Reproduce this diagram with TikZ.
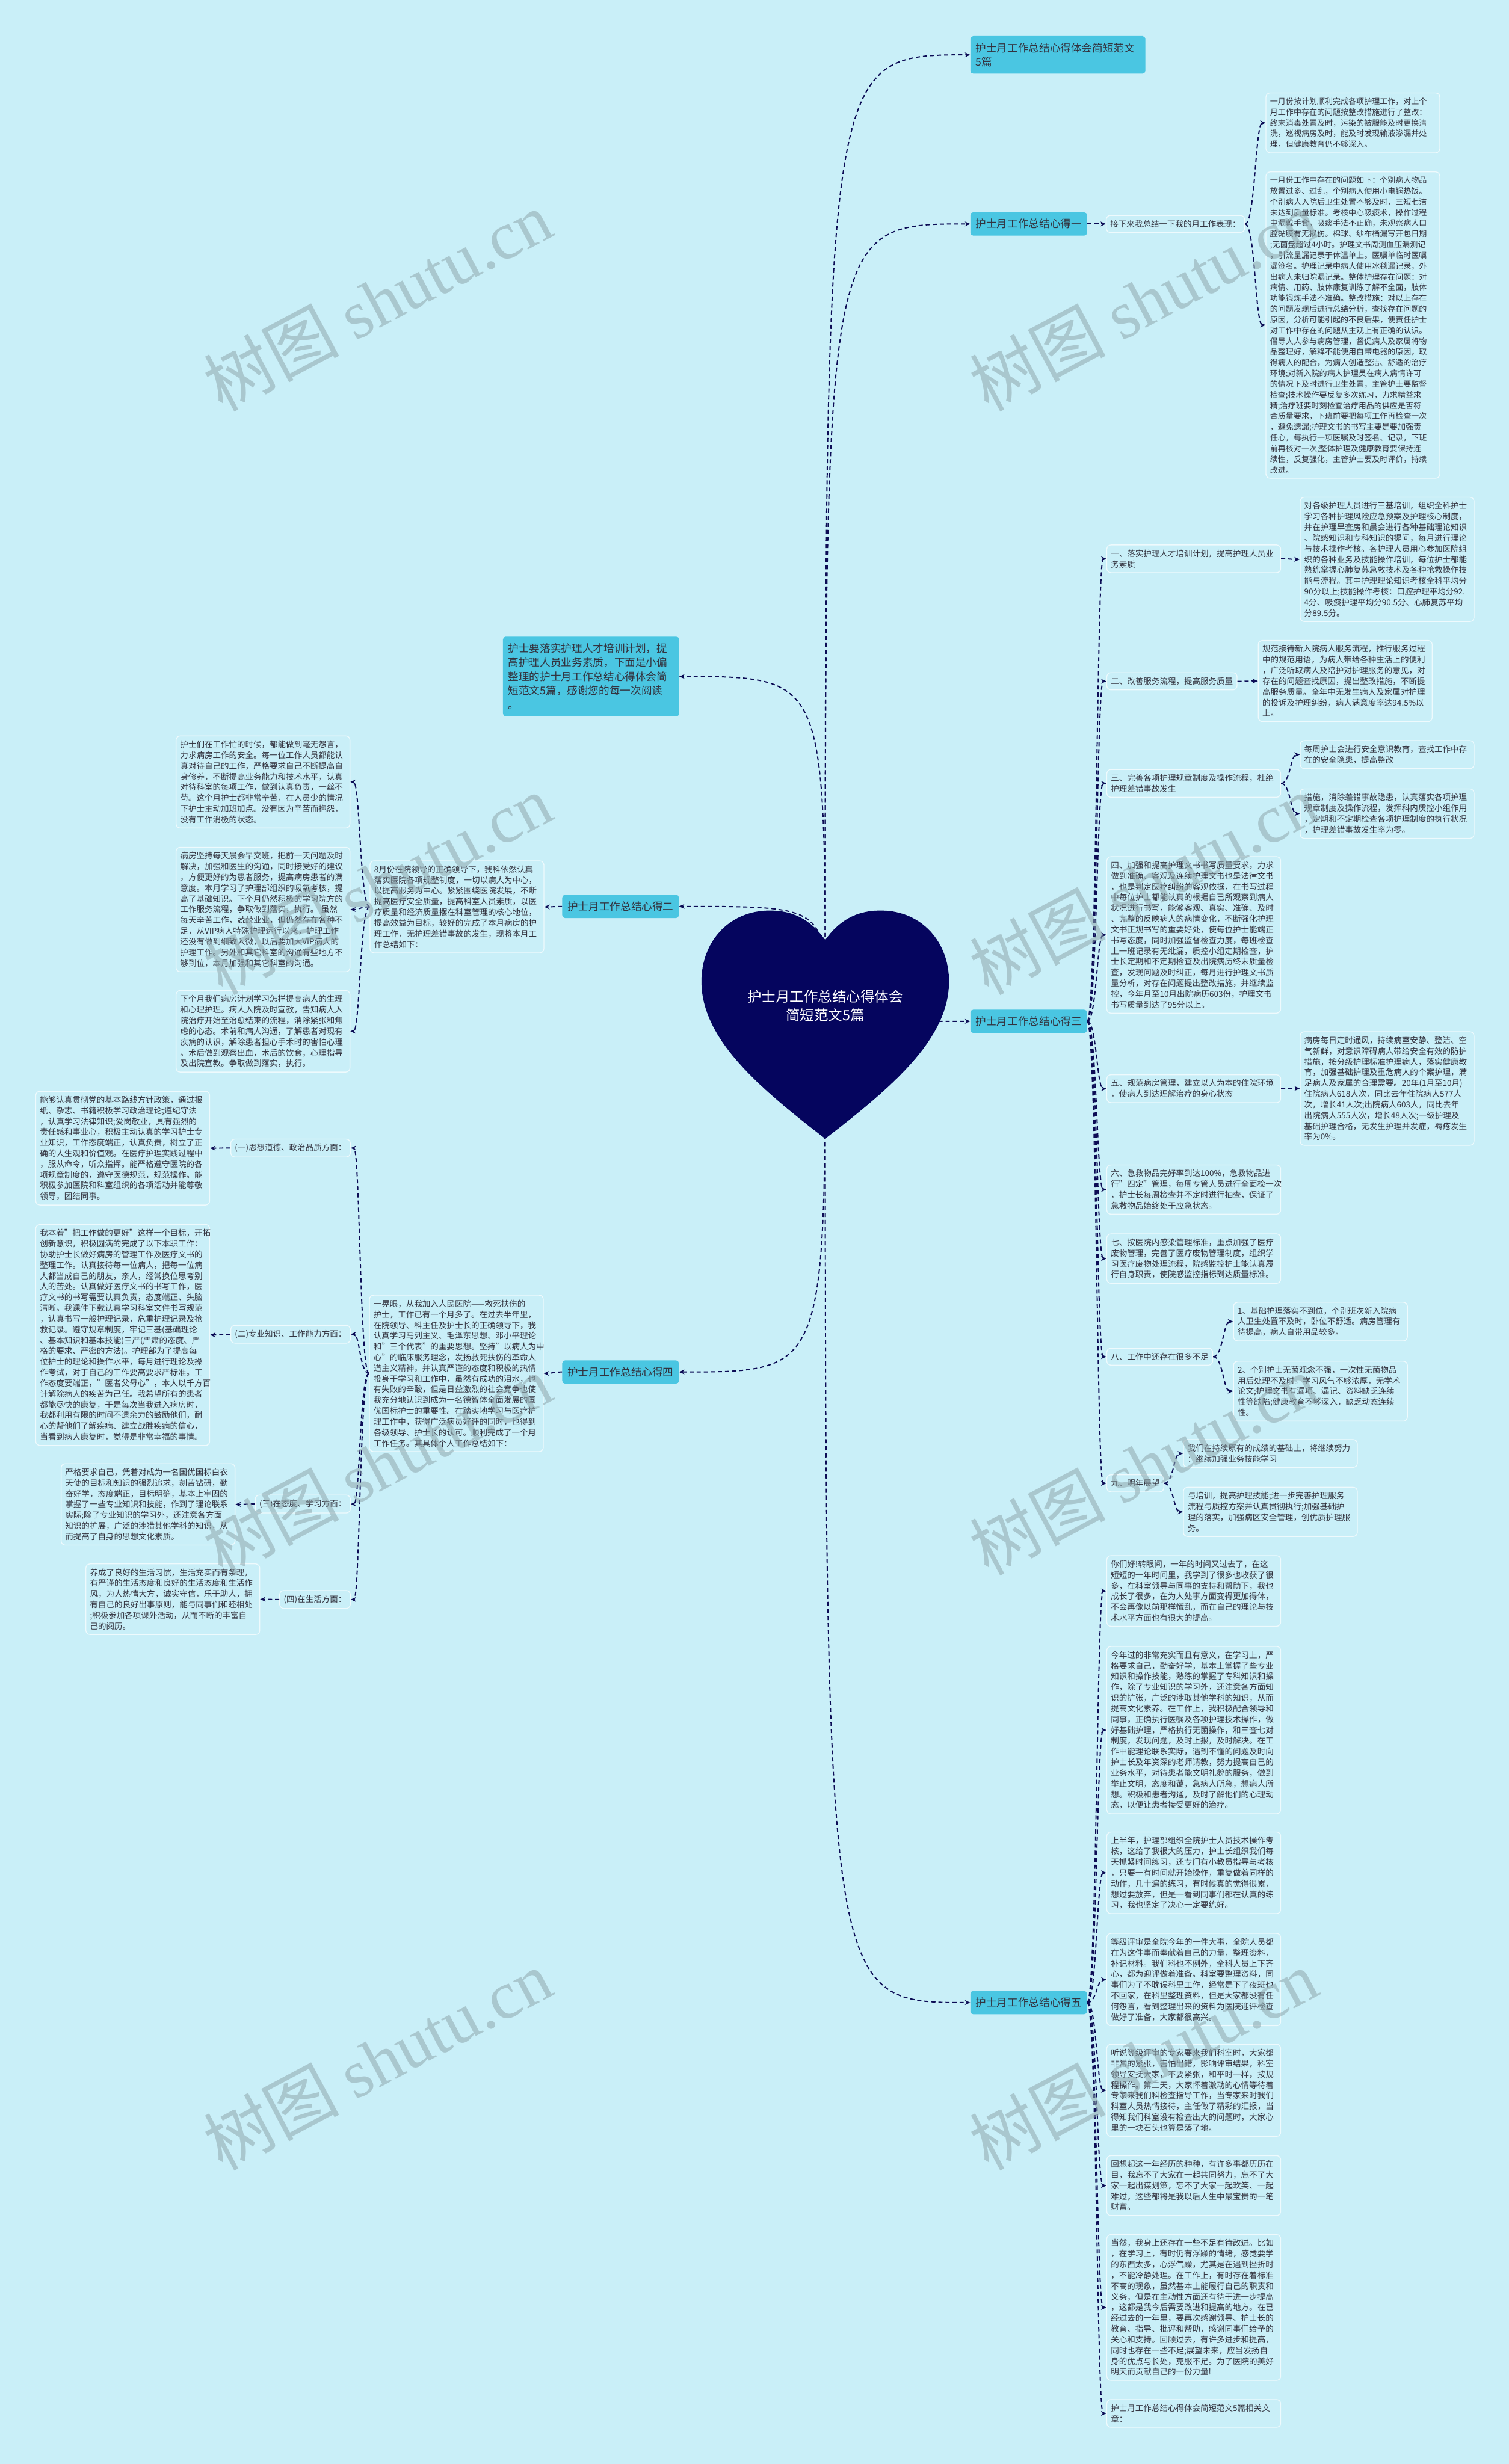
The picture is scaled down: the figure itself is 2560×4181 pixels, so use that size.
\documentclass[tikz,border=0pt]{standalone}
\usepackage{fontspec}
\setmainfont{Noto Sans CJK SC}
\newfontfamily\wmserif{Liberation Serif}
\usetikzlibrary{calc,arrows.meta}
\definecolor{bg}{HTML}{C9EFF8}
\definecolor{cy}{HTML}{4AC6E2}
\definecolor{nv}{HTML}{0C0C55}
\definecolor{hv}{HTML}{05055E}
\definecolor{bd}{HTML}{EEFAFD}
\definecolor{tx}{HTML}{33333F}
\definecolor{wmc}{HTML}{8FA7AD}
\tikzset{
  cbox/.style={fill=cy, rounded corners=5pt, text=tx, font=\fontsize{18}{24}\selectfont, inner xsep=9pt, inner ysep=11.5pt, align=left},
  tbox/.style={draw=bd, line width=1.4pt, fill=bg, rounded corners=7pt, text=tx, font=\fontsize{13.8}{18.2}\selectfont, inner xsep=7pt, inner ysep=8pt, align=left},
  wbox/.style={tbox, text width=281pt},
  wboxa/.style={wbox, font=\fontsize{13.3}{18.2}\selectfont},
  conn/.style={draw=nv, line width=2pt, dash pattern=on 7pt off 5pt, -{Stealth[length=9pt,width=8pt]}},
  mmcurve/.style={to path={let \p1=(\tikztostart), \p2=(\tikztotarget), \p3=($(\p1)!0.5!(\p2)$) in .. controls (\x3,\y1) and (\x3,\y2) .. (\tikztotarget) \tikztonodes}},
  rootcurve/.style={to path={.. controls (\tikztostart |- \tikztotarget) .. (\tikztotarget) \tikztonodes}},
  wm/.style={text=wmc, opacity=0.55, font=\fontsize{115}{120}\selectfont, rotate=28, inner sep=0pt}
}
\begin{document}
\begin{tikzpicture}[x=1pt,y=-1pt]
\useasboundingbox (0,0) rectangle (2560,4181);
\fill[bg] (0,0) rectangle (2560,4181);

\coordinate (hC) at (1400,1710);

% ---------- right branches ----------
\node[cbox, text width=279pt, anchor=north west] (b1) at (1646,61) {护士月工作总结心得体会简短范文\\5篇};
\node[cbox, anchor=west] (b2) at (1646,380) {护士月工作总结心得一};
\node[cbox, anchor=west] (b3) at (1646,1733) {护士月工作总结心得三};
\node[cbox, anchor=west] (b5) at (1646,3398) {护士月工作总结心得五};

\node[tbox, anchor=west] (n1) at (1876,380) {接下来我总结一下我的月工作表现：};
\node[wboxa, anchor=north west] (t1a) at (2147,157) {一月份按计划顺利完成各项护理工作，对上个\\月工作中存在的问题按整改措施进行了整改：\\终末消毒处置及时，污染的被服能及时更换清\\洗，巡视病房及时，能及时发现输液渗漏并处\\理，但健康教育仍不够深入。};
\node[wboxa, anchor=north west] (t1b) at (2147,291) {一月份工作中存在的问题如下：个别病人物品\\放置过多、过乱，个别病人使用小电锅热饭。\\个别病人入院后卫生处置不够及时，三短七洁\\未达到质量标准。考核中心吸痰术，操作过程\\中漏戴手套，吸痰手法不正确，未观察病人口\\腔黏膜有无损伤。棉球、纱布桶漏写开包日期\\;无菌盘超过4小时。护理文书周测血压漏测记\\，引流量漏记录于体温单上。医嘱单临时医嘱\\漏签名。护理记录中病人使用冰毯漏记录，外\\出病人未归院漏记录。整体护理存在问题：对\\病情、用药、肢体康复训练了解不全面，肢体\\功能锻炼手法不准确。整改措施：对以上存在\\的问题发现后进行总结分析，查找存在问题的\\原因，分析可能引起的不良后果，使责任护士\\对工作中存在的问题从主观上有正确的认识。\\倡导人人参与病房管理，督促病人及家属将物\\品整理好，解释不能使用自带电器的原因，取\\得病人的配合，为病人创造整洁、舒适的治疗\\环境;对新入院的病人护理员在病人病情许可\\的情况下及时进行卫生处置，主管护士要监督\\检查;技术操作要反复多次练习，力求精益求\\精;治疗班要时刻检查治疗用品的供应是否符\\合质量要求，下班前要把每项工作再检查一次\\，避免遗漏;护理文书的书写主要是要加强责\\任心，每执行一项医嘱及时签名、记录，下班\\前再核对一次;整体护理及健康教育要保持连\\续性，反复强化，主管护士要及时评价，持续\\改进。};

% branch three
\node[wbox, anchor=north west] (l31) at (1877,924) {一、落实护理人才培训计划，提高护理人员业\\务素质};
\node[wbox, anchor=north west] (t31) at (2205,843) {对各级护理人员进行三基培训，组织全科护士\\学习各种护理风险应急预案及护理核心制度，\\并在护理早查房和晨会进行各种基础理论知识\\、院感知识和专科知识的提问，每月进行理论\\与技术操作考核。各护理人员用心参加医院组\\织的各种业务及技能操作培训，每位护士都能\\熟练掌握心肺复苏急救技术及各种抢救操作技\\能与流程。其中护理理论知识考核全科平均分\\90分以上;技能操作考核：口腔护理平均分92.\\4分、吸痰护理平均分90.5分、心肺复苏平均\\分89.5分。};
\node[tbox, anchor=west] (l32) at (1877,1156) {二、改善服务流程，提高服务质量};
\node[wbox, anchor=north west] (t32) at (2134,1086) {规范接待新入院病人服务流程，推行服务过程\\中的规范用语，为病人带给各种生活上的便利\\，广泛听取病人及陪护对护理服务的意见，对\\存在的问题查找原因，提出整改措施，不断提\\高服务质量。全年中无发生病人及家属对护理\\的投诉及护理纠纷，病人满意度率达94.5\%以\\上。};
\node[wbox, anchor=north west] (l33) at (1877,1305) {三、完善各项护理规章制度及操作流程，杜绝\\护理差错事故发生};
\node[wbox, anchor=north west] (t33a) at (2205,1256) {每周护士会进行安全意识教育，查找工作中存\\在的安全隐患，提高整改};
\node[wbox, anchor=north west] (t33b) at (2205,1338) {措施，消除差错事故隐患，认真落实各项护理\\规章制度及操作流程，发挥科内质控小组作用\\，定期和不定期检查各项护理制度的执行状况\\，护理差错事故发生率为零。};
\node[wbox, anchor=north west] (t34) at (1877,1453) {四、加强和提高护理文书书写质量要求，力求\\做到准确、客观及连续护理文书也是法律文书\\，也是判定医疗纠纷的客观依据，在书写过程\\中每位护士都能认真的根据自已所观察到病人\\状况进行书写，能够客观、真实、准确、及时\\、完整的反映病人的病情变化，不断强化护理\\文书正规书写的重要好处，使每位护士能端正\\书写态度，同时加强监督检查力度，每班检查\\上一班记录有无纰漏，质控小组定期检查，护\\士长定期和不定期检查及出院病历终末质量检\\查，发现问题及时纠正，每月进行护理文书质\\量分析，对存在问题提出整改措施，并继续监\\控，今年月至10月出院病历603份，护理文书\\书写质量到达了95分以上。};
\node[wbox, anchor=north west] (l35) at (1877,1823) {五、规范病房管理，建立以人为本的住院环境\\，使病人到达理解治疗的身心状态};
\node[wbox, anchor=north west] (t35) at (2205,1750) {病房每日定时通风，持续病室安静、整洁、空\\气新鲜，对意识障碍病人带给安全有效的防护\\措施，按分级护理标准护理病人，落实健康教\\育，加强基础护理及重危病人的个案护理，满\\足病人及家属的合理需要。20年(1月至10月)\\住院病人618人次，同比去年住院病人577人\\次，增长41人次;出院病人603人，同比去年\\出院病人555人次，增长48人次;一级护理及\\基础护理合格，无发生护理并发症，褥疮发生\\率为0\%。};
\node[wbox, anchor=north west] (t36) at (1877,1976) {六、急救物品完好率到达100\%，急救物品进\\行"四定"管理，每周专管人员进行全面检一次\\，护士长每周检查并不定时进行抽查，保证了\\急救物品始终处于应急状态。};
\node[wbox, anchor=north west] (t37) at (1877,2093) {七、按医院内感染管理标准，重点加强了医疗\\废物管理，完善了医疗废物管理制度，组织学\\习医疗废物处理流程，院感监控护士能认真履\\行自身职责，使院感监控指标到达质量标准。};
\node[tbox, anchor=west] (l38) at (1877,2302) {八、工作中还存在很多不足};
\node[wbox, anchor=north west] (t38a) at (2092,2209) {1、基础护理落实不到位，个别班次新入院病\\人卫生处置不及时，卧位不舒适。病房管理有\\待提高，病人自带用品较多。};
\node[wbox, anchor=north west] (t38b) at (2092,2309) {2、个别护士无菌观念不强，一次性无菌物品\\用后处理不及时。学习风气不够浓厚，无学术\\论文;护理文书有漏项、漏记、资料缺乏连续\\性等缺陷;健康教育不够深入，缺乏动态连续\\性。};
\node[tbox, anchor=west] (l39) at (1877,2517) {九、明年展望};
\node[wbox, anchor=north west] (t39a) at (2007,2442) {我们在持续原有的成绩的基础上，将继续努力\\：继续加强业务技能学习};
\node[wbox, anchor=north west] (t39b) at (2007,2523) {与培训，提高护理技能;进一步完善护理服务\\流程与质控方案并认真贯彻执行;加强基础护\\理的落实，加强病区安全管理，创优质护理服\\务。};

% branch five
\node[wbox, anchor=north west] (t51) at (1877,2639) {你们好!转眼间，一年的时间又过去了，在这\\短短的一年时间里，我学到了很多也收获了很\\多，在科室领导与同事的支持和帮助下，我也\\成长了很多，在为人处事方面变得更加得体，\\不会再像以前那样慌乱，而在自己的理论与技\\术水平方面也有很大的提高。};
\node[wbox, anchor=north west] (t52) at (1877,2793) {今年过的非常充实而且有意义，在学习上，严\\格要求自己，勤奋好学，基本上掌握了些专业\\知识和操作技能，熟练的掌握了专科知识和操\\作，除了专业知识的学习外，还注意各方面知\\识的扩张，广泛的涉取其他学科的知识，从而\\提高文化素养。在工作上，我积极配合领导和\\同事，正确执行医嘱及各项护理技术操作，做\\好基础护理，严格执行无菌操作，和三查七对\\制度，发现问题，及时上报，及时解决。在工\\作中能理论联系实际，遇到不懂的问题及时向\\护士长及年资深的老师请教，努力提高自己的\\业务水平，对待患者能文明礼貌的服务，做到\\举止文明，态度和蔼，急病人所急，想病人所\\想。积极和患者沟通，及时了解他们的心理动\\态，以便让患者接受更好的治疗。};
\node[wbox, anchor=north west] (t53) at (1877,3108) {上半年，护理部组织全院护士人员技术操作考\\核，这给了我很大的压力，护士长组织我们每\\天抓紧时间练习，还专门有小教员指导与考核\\，只要一有时间就开始操作，重复做着同样的\\动作，几十遍的练习，有时候真的觉得很累，\\想过要放弃，但是一看到同事们都在认真的练\\习，我也坚定了决心一定要练好。};
\node[wbox, anchor=north west] (t54) at (1877,3280) {等级评审是全院今年的一件大事，全院人员都\\在为这件事而奉献着自己的力量，整理资料，\\补记材料。我们科也不例外，全科人员上下齐\\心，都为迎评做着准备。科室要整理资料，同\\事们为了不耽误科里工作，经常是下了夜班也\\不回家，在科里整理资料，但是大家都没有任\\何怨言，看到整理出来的资料为医院迎评检查\\做好了准备，大家都很高兴。};
\node[wbox, anchor=north west] (t55) at (1877,3468) {听说等级评审的专家要来我们科室时，大家都\\非常的紧张，害怕出错，影响评审结果，科室\\领导安抚大家，不要紧张，和平时一样，按规\\程操作。第二天，大家怀着激动的心情等待着\\专家来我们科检查指导工作，当专家来时我们\\科室人员热情接待，主任做了精彩的汇报，当\\得知我们科室没有检查出大的问题时，大家心\\里的一块石头也算是落了地。};
\node[wbox, anchor=north west] (t56) at (1877,3657) {回想起这一年经历的种种，有许多事都历历在\\目，我忘不了大家在一起共同努力，忘不了大\\家一起出谋划策，忘不了大家一起欢笑、一起\\难过，这些都将是我以后人生中最宝贵的一笔\\财富。};
\node[wbox, anchor=north west] (t57) at (1877,3791) {当然，我身上还存在一些不足有待改进。比如\\，在学习上，有时仍有浮躁的情绪，感觉要学\\的东西太多，心浮气躁，尤其是在遇到挫折时\\，不能冷静处理。在工作上，有时存在着标准\\不高的现象，虽然基本上能履行自己的职责和\\义务，但是在主动性方面还有待于进一步提高\\，这都是我今后需要改进和提高的地方。在已\\经过去的一年里，要再次感谢领导、护士长的\\教育、指导、批评和帮助，感谢同事们给予的\\关心和支持。回顾过去，有许多进步和提高，\\同时也存在一些不足;展望未来，应当发扬自\\身的优点与长处，克服不足。为了医院的美好\\明天而贡献自己的一份力量!};
\node[wbox, anchor=north west] (t58) at (1877,4071) {护士月工作总结心得体会简短范文5篇相关文\\章：};

% ---------- left branches ----------
\node[cbox, text width=281pt, anchor=north west] (intro) at (853,1080) {护士要落实护理人才培训计划，提\\高护理人员业务素质，下面是小偏\\整理的护士月工作总结心得体会简\\短范文5篇，感谢您的每一次阅读\\。};
\node[cbox, anchor=east] (b2l) at (1152,1538) {护士月工作总结心得二};
\node[cbox, anchor=east] (b4) at (1152,2328) {护士月工作总结心得四};

\node[wbox, anchor=north west] (t20) at (627,1460) {8月份在院领导的正确领导下，我科依然认真\\落实医院各项规整制度，一切以病人为中心，\\以提高服务为中心。紧紧围绕医院发展，不断\\提高医疗安全质量，提高科室人员素质，以医\\疗质量和经济质量摆在科室管理的核心地位，\\提高效益为目标，较好的完成了本月病房的护\\理工作，无护理差错事故的发生，现将本月工\\作总结如下：};
\node[wbox, anchor=north west] (t21) at (298,1248) {护士们在工作忙的时候，都能做到毫无怨言，\\力求病房工作的安全。每一位工作人员都能认\\真对待自己的工作，严格要求自己不断提高自\\身修养，不断提高业务能力和技术水平，认真\\对待科室的每项工作，做到认真负责，一丝不\\苟。这个月护士都非常辛苦，在人员少的情况\\下护士主动加班加点。没有因为辛苦而抱怨，\\没有工作消极的状态。};
\node[wbox, anchor=north west] (t22) at (298,1437) {病房坚持每天晨会早交班，把前一天问题及时\\解决，加强和医生的沟通，同时接受好的建议\\，方便更好的为患者服务，提高病房患者的满\\意度。本月学习了护理部组织的吸氧考核，提\\高了基础知识。下个月仍然积极的学习院方的\\工作服务流程，争取做到落实，执行。 虽然\\每天辛苦工作，兢兢业业，但仍然存在各种不\\足，从VIP病人特殊护理运行以来，护理工作\\还没有做到细致入微，以后要加大VIP病人的\\护理工作。另外和其它科室的沟通有些地方不\\够到位，本月加强和其它科室的沟通。};
\node[wbox, anchor=north west] (t23) at (298,1680) {下个月我们病房计划学习怎样提高病人的生理\\和心理护理。病人入院及时宣教，告知病人入\\院治疗开始至治愈结束的流程，消除紧张和焦\\虑的心态。术前和病人沟通，了解患者对现有\\疾病的认识，解除患者担心手术时的害怕心理\\。术后做到观察出血，术后的饮食，心理指导\\及出院宣教。争取做到落实，执行。};

\node[wbox, anchor=north west] (t40) at (626,2197) {一晃眼，从我加入人民医院——救死扶伤的\\护士，工作已有一个月多了。在过去半年里，\\在院领导、科主任及护士长的正确领导下，我\\认真学习马列主义、毛泽东思想、邓小平理论\\和"三个代表"的重要思想。坚持"以病人为中\\心"的临床服务理念，发扬救死扶伤的革命人\\道主义精神，并认真严谨的态度和积极的热情\\投身于学习和工作中，虽然有成功的泪水，也\\有失败的辛酸，但是日益激烈的社会竞争也使\\我充分地认识到成为一名德智体全面发展的国\\优国标护士的重要性。在踏实地学习与医疗护\\理工作中，获得广泛病员好评的同时，也得到\\各级领导、护士长的认可。顺利完成了一个月\\工作任务。其具体个人工作总结如下：};
\node[tbox, anchor=east] (l41) at (595,1948) {(一)思想道德、政治品质方面：};
\node[wbox, anchor=north west] (t41) at (60,1851) {能够认真贯彻党的基本路线方针政策，通过报\\纸、杂志、书籍积极学习政治理论;遵纪守法\\，认真学习法律知识;爱岗敬业，具有强烈的\\责任感和事业心，积极主动认真的学习护士专\\业知识，工作态度端正，认真负责，树立了正\\确的人生观和价值观。在医疗护理实践过程中\\，服从命令，听众指挥。能严格遵守医院的各\\项规章制度的，遵守医德规范，规范操作。能\\积极参加医院和科室组织的各项活动并能尊敬\\领导，团结同事。};
\node[tbox, anchor=east] (l42) at (595,2264) {(二)专业知识、工作能力方面：};
\node[wbox, anchor=north west] (t42) at (60,2077) {我本着"把工作做的更好"这样一个目标，开拓\\创新意识，积极圆满的完成了以下本职工作：\\协助护士长做好病房的管理工作及医疗文书的\\整理工作。认真接待每一位病人，把每一位病\\人都当成自己的朋友，亲人，经常换位思考别\\人的苦处。认真做好医疗文书的书写工作，医\\疗文书的书写需要认真负责，态度端正、头脑\\清晰。我课件下载认真学习科室文件书写规范\\，认真书写一般护理记录，危重护理记录及抢\\救记录。遵守规章制度，牢记三基(基础理论\\、基本知识和基本技能)三严(严肃的态度、严\\格的要求、严密的方法)。护理部为了提高每\\位护士的理论和操作水平，每月进行理论及操\\作考试，对于自己的工作要高要求严标准。工\\作态度要端正，"医者父母心"，本人以千方百\\计解除病人的疾苦为己任。我希望所有的患者\\都能尽快的康复，于是每次当我进入病房时，\\我都利用有限的时间不遗余力的鼓励他们，耐\\心的帮他们了解疾病、建立战胜疾病的信心，\\当看到病人康复时，觉得是非常幸福的事情。};
\node[tbox, anchor=east] (l43) at (595,2552) {(三)在态度、学习方面：};
\node[wbox, anchor=north west] (t43) at (103,2483) {严格要求自己，凭着对成为一名国优国标白衣\\天使的目标和知识的强烈追求，刻苦钻研，勤\\奋好学，态度端正，目标明确，基本上牢固的\\掌握了一些专业知识和技能，作到了理论联系\\实际;除了专业知识的学习外，还注意各方面\\知识的扩展，广泛的涉猎其他学科的知识，从\\而提高了自身的思想文化素质。};
\node[tbox, anchor=east] (l44) at (595,2714) {(四)在生活方面：};
\node[wbox, anchor=north west] (t44) at (145,2653) {养成了良好的生活习惯，生活充实而有条理，\\有严谨的生活态度和良好的生活态度和生活作\\风，为人热情大方，诚实守信，乐于助人，拥\\有自己的良好出事原则，能与同事们和睦相处\\;积极参加各项课外活动，从而不断的丰富自\\己的阅历。};

% ---------- connectors ----------
\foreach \t in {b1,b2,b3,b5} \draw[conn] (hC) to[rootcurve] (\t.west);
\foreach \t in {intro,b2l,b4} \draw[conn] (hC) to[rootcurve] (\t.east);
\draw[conn] (b2.east) to[mmcurve] (n1.west);
\foreach \t in {t1a,t1b} \draw[conn] (n1.east) to[mmcurve] (\t.west);
\foreach \t in {l31,l32,l33,t34,l35,t36,t37,l38,l39} \draw[conn] (b3.east) to[mmcurve] (\t.west);
\draw[conn] (l31.east) to[mmcurve] (t31.west);
\draw[conn] (l32.east) to[mmcurve] (t32.west);
\foreach \t in {t33a,t33b} \draw[conn] (l33.east) to[mmcurve] (\t.west);
\draw[conn] (l35.east) to[mmcurve] (t35.west);
\foreach \t in {t38a,t38b} \draw[conn] (l38.east) to[mmcurve] (\t.west);
\foreach \t in {t39a,t39b} \draw[conn] (l39.east) to[mmcurve] (\t.west);
\foreach \t in {t51,t52,t53,t54,t55,t56,t57,t58} \draw[conn] (b5.east) to[mmcurve] (\t.west);
\draw[conn] (b2l.west) to[mmcurve] (t20.east);
\foreach \t in {t21,t22,t23} \draw[conn] (t20.west) to[mmcurve] (\t.east);
\draw[conn] (b4.west) to[mmcurve] (t40.east);
\foreach \t in {l41,l42,l43,l44} \draw[conn] (t40.west) to[mmcurve] (\t.east);
\draw[conn] (l41.west) to[mmcurve] (t41.east);
\draw[conn] (l42.west) to[mmcurve] (t42.east);
\draw[conn] (l43.west) to[mmcurve] (t43.east);
\draw[conn] (l44.west) to[mmcurve] (t44.east);

% ---------- heart (over the root connectors) ----------
\fill[hv] (1400,1595) .. controls (1425,1560) and (1455,1545) .. (1494,1545)
  .. controls (1565,1545) and (1610,1600) .. (1610,1665)
  .. controls (1610,1760) and (1520,1840) .. (1400,1932)
  .. controls (1280,1840) and (1190,1760) .. (1190,1665)
  .. controls (1190,1600) and (1235,1545) .. (1306,1545)
  .. controls (1345,1545) and (1375,1560) .. (1400,1595) -- cycle;
\node[text=white, font=\fontsize{24}{32}\selectfont, align=center] (hc) at (1400,1707) {护士月工作总结心得体会\\简短范文5篇};

% ---------- watermarks ----------
\node[wm] (w1) at (640,510) {树图 {\wmserif shutu.cn}};
\node[wm] (w2) at (1940,510) {树图 {\wmserif shutu.cn}};
\node[wm] (w3) at (640,1500) {树图 {\wmserif shutu.cn}};
\node[wm] (w4) at (1940,1500) {树图 {\wmserif shutu.cn}};
\node[wm] (w5) at (640,2485) {树图 {\wmserif shutu.cn}};
\node[wm] (w6) at (1940,2485) {树图 {\wmserif shutu.cn}};
\node[wm] (w7) at (640,3495) {树图 {\wmserif shutu.cn}};
\node[wm] (w8) at (1940,3495) {树图 {\wmserif shutu.cn}};
\end{tikzpicture}
\end{document}
